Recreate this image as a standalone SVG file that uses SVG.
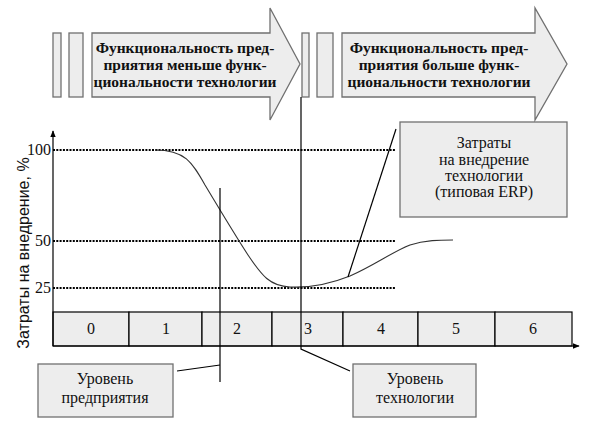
<svg xmlns="http://www.w3.org/2000/svg" width="600" height="428" viewBox="0 0 600 428">
<defs>
<style>
.shape{fill:#ededed;stroke:#707070;stroke-width:1.3}
.cell{fill:#ededed;stroke:#000;stroke-width:1.2}
.dot{stroke:#000;stroke-width:2.2;stroke-dasharray:2 1.3;fill:none}
.ln{stroke:#000;stroke-width:1.2;fill:none}
.curve{stroke:#333;stroke-width:1.1;fill:none}
</style>
<marker id="ah" viewBox="0 0 10 10" refX="9" refY="5" markerWidth="7" markerHeight="7" orient="auto" markerUnits="userSpaceOnUse">
<path d="M0,1 L10,5 L0,9 Z" fill="#000"/>
</marker>
</defs>
<rect width="600" height="428" fill="#fff"/>

<g id="arrow-left">
<rect class="shape" x="53" y="33" width="8" height="64"/>
<rect class="shape" x="69" y="33" width="14" height="64"/>
<path class="shape" d="M92,33 H270 V8 L300,64 L270,120 V97 H92 Z"/>
<g font-family="'Liberation Serif', 'DejaVu Serif', serif" font-size="15.5" font-weight="bold" text-anchor="middle" fill="#111">
<text x="185" y="53">Функциональность пред-</text>
<text x="185" y="70">приятия меньше функ-</text>
<text x="185" y="87">циональности технологии</text>
</g>
</g>

<g id="arrow-right">
<rect class="shape" x="302" y="33" width="7" height="64"/>
<rect class="shape" x="317" y="33" width="16" height="64"/>
<path class="shape" d="M342,33 H535 V8 L567,64 L535,120 V97 H342 Z"/>
<g font-family="'Liberation Serif', 'DejaVu Serif', serif" font-size="15.5" font-weight="bold" text-anchor="middle" fill="#111">
<text x="439" y="53">Функциональность пред-</text>
<text x="439" y="70">приятия больше функ-</text>
<text x="439" y="87">циональности технологии</text>
</g>
</g>

<g id="timeline">
<rect class="cell" x="53" y="312" width="76" height="34"/>
<rect class="cell" x="129" y="312" width="73" height="34"/>
<rect class="cell" x="202" y="312" width="70" height="34"/>
<rect class="cell" x="272" y="312" width="71" height="34"/>
<rect class="cell" x="343" y="312" width="75" height="34"/>
<rect class="cell" x="418" y="312" width="77" height="34"/>
<rect class="cell" x="495" y="312" width="77" height="34"/>
<g font-family="'Liberation Serif', 'DejaVu Serif', serif" font-size="16" text-anchor="middle" fill="#111">
<text x="91" y="334">0</text>
<text x="166" y="334">1</text>
<text x="237" y="334">2</text>
<text x="308" y="334">3</text>
<text x="381" y="334">4</text>
<text x="456" y="334">5</text>
<text x="533" y="334">6</text>
</g>
</g>

<g id="axes">
<line class="ln" x1="53" y1="346" x2="53" y2="131" stroke-width="1.6" marker-end="url(#ah)"/>
<line class="ln" x1="53" y1="346" x2="579" y2="346" stroke-width="1.6" marker-end="url(#ah)"/>
<g font-family="'Liberation Serif', 'DejaVu Serif', serif" font-size="16" text-anchor="end" fill="#111">
<text x="51" y="155">100</text>
<text x="51" y="246">50</text>
<text x="51" y="293">25</text>
</g>
<text transform="translate(29,253) rotate(-90)" font-family="'Liberation Sans', Arial, sans-serif" font-size="16" text-anchor="middle" fill="#111">Затраты на внедрение, %</text>
</g>

<g id="gridlines">
<line class="dot" x1="53" y1="150" x2="395" y2="150"/>
<line class="dot" x1="53" y1="241" x2="395" y2="241"/>
<line class="dot" x1="53" y1="288" x2="395" y2="288"/>
</g>

<g id="cost-curve">
<path class="curve" d="M155,150 C185,150 192,162 205,185 C220,210 235,235 248,255 C262,276 270,286 290,287 C310,288 330,284 350,276 C375,265 392,252 410,245 C425,240 440,240 453,240"/>
</g>

<g id="erp-box">
<rect class="shape" x="400" y="122" width="167" height="95"/>
<g font-family="'Liberation Serif', 'DejaVu Serif', serif" font-size="16" text-anchor="middle" fill="#111">
<text x="484" y="148">Затраты</text>
<text x="484" y="165">на внедрение</text>
<text x="484" y="181">технологии</text>
<text x="484" y="197">(типовая ERP)</text>
</g>
</g>

<g id="enterprise-box">
<rect class="shape" x="38" y="364" width="135" height="53"/>
<g font-family="'Liberation Serif', 'DejaVu Serif', serif" font-size="16" text-anchor="middle" fill="#111">
<text x="105" y="384">Уровень</text>
<text x="105" y="403">предприятия</text>
</g>
</g>

<g id="technology-box">
<rect class="shape" x="353" y="364" width="123" height="53"/>
<g font-family="'Liberation Serif', 'DejaVu Serif', serif" font-size="16" text-anchor="middle" fill="#111">
<text x="415" y="384">Уровень</text>
<text x="415" y="403">технологии</text>
</g>
</g>

<g id="connectors">
<line class="ln" x1="348" y1="277" x2="396" y2="129"/>
<line class="ln" x1="220" y1="188" x2="220" y2="382"/>
<line class="ln" x1="177" y1="371" x2="220" y2="365"/>
<polyline class="ln" points="301,97 301,349 350,371"/>
</g>
</svg>
